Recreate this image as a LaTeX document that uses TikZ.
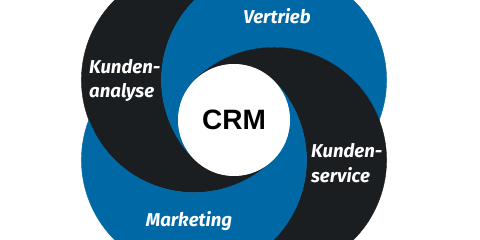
\documentclass[tikz,border=0pt]{standalone}
\usepackage{fontspec}
\setmainfont{Fira Sans}
\newfontfamily\crmfont{Liberation Sans}
\usepackage{tikz}
\usetikzlibrary{calc}
\definecolor{crmblue}{RGB}{0, 104, 165}
\definecolor{crmdark}{RGB}{27, 30, 33}

\begin{document}
\begin{tikzpicture}[x=1pt,y=1pt,
    blade/.style={fill=#1,draw=#1,line width=0.4pt},
    tag/.style={text=white,inner sep=0pt,align=left,font=\bfseries\itshape\fontsize{18.6}{24.5}\selectfont}]
    \def\R{112.57pt}
    \def\r{56pt}
    \fill[white] (0,0) rectangle (480,240);
    \useasboundingbox (0,0) rectangle (480,240);
    \clip (0,0) rectangle (480,240);
    \coordinate (tl) at (194,160);
    \coordinate (tr) at (274,160);
    \coordinate (br) at (274,80);
    \coordinate (bl) at (194,80);
    \coordinate (mid) at (234,120);
    \path[blade=crmdark] ($(tl)+(69.19:\R)$) arc[start angle=69.19,end angle=315,radius=\R]
        arc[start angle=315,end angle=225,radius=\r] arc[start angle=225,end angle=110.81,radius=\R] -- cycle;
    \path[blade=crmblue] ($(tr)+(-20.81:\R)$) arc[start angle=-20.81,end angle=225,radius=\R]
        arc[start angle=225,end angle=135,radius=\r] arc[start angle=135,end angle=20.81,radius=\R] -- cycle;
    \path[blade=crmdark] ($(br)+(-110.81:\R)$) arc[start angle=-110.81,end angle=135,radius=\R]
        arc[start angle=135,end angle=45,radius=\r] arc[start angle=45,end angle=-69.19,radius=\R] -- cycle;
    \path[blade=crmblue] ($(bl)+(159.19:\R)$) arc[start angle=159.19,end angle=405,radius=\R]
        arc[start angle=45,end angle=-45,radius=\r] arc[start angle=315,end angle=200.81,radius=\R] -- cycle;
    \node[circle,fill=white,minimum size=112pt,inner sep=0pt,font=\crmfont\bfseries\fontsize{28}{28}\selectfont] (crm) at (mid) {CRM};
    \node[tag,anchor=base] (vertrieb) at (277,216) {Vertrieb};
    \node[tag,anchor=base] (marketing) at (189,13.3) {Marketing};
    \node[tag,anchor=west] (analyse) at (89,159.5) {Kunden-\\analyse};
    \node[tag,anchor=west] (service) at (311,77) {Kunden-\\service};
\end{tikzpicture}
\end{document}
